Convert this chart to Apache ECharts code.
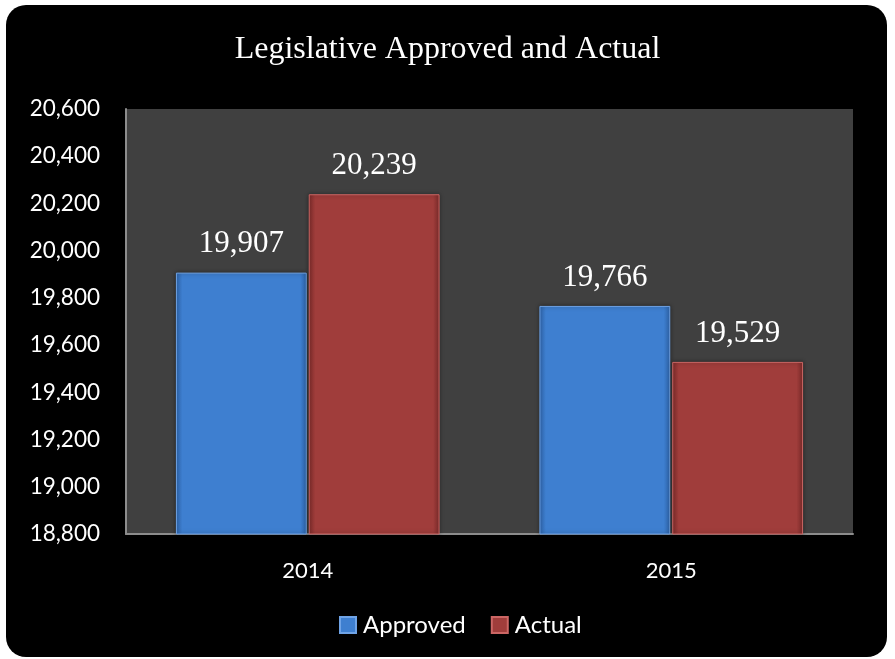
<!DOCTYPE html>
<html>
<head>
<meta charset="utf-8">
<script src="https://cdn.jsdelivr.net/npm/echarts@6/dist/echarts.min.js"></script>
<style>
  html, body { margin: 0; padding: 0; background: #ffffff; }
  #chart { width: 895px; height: 659px; }
</style>
</head>
<body>
<div id="chart"></div>
<script>
// Fiscal years on the category axis
const years = ['2014', '2015'];
// Legislative approved vs. actual amounts
const approved = [19907, 19766];
const actual = [20239, 19529];
// Value axis range
const yMin = 18800;
const yMax = 20600;
const yStep = 200;

const fmt = v => v.toLocaleString('en-US');

// Bevelled look: darker side edges
function barGradient(mid, dark) {
  return new echarts.graphic.LinearGradient(0, 0, 1, 0, [
    { offset: 0, color: dark },
    { offset: 0.05, color: mid },
    { offset: 0.95, color: mid },
    { offset: 1, color: dark }
  ]);
}

const chart = echarts.init(document.getElementById('chart'), null, { renderer: 'canvas' });

const labelStyle = {
  show: true,
  position: 'top',
  distance: 13,
  color: '#ffffff',
  fontFamily: '"Liberation Serif", "Times New Roman", serif',
  fontSize: 31,
  formatter: p => fmt(p.value)
};

const sans = 'Lato, "Open Sans", sans-serif';

chart.setOption({
  backgroundColor: '#ffffff',
  animation: false,
  graphic: [{
    type: 'rect',
    z: -10,
    silent: true,
    shape: { x: 6, y: 5, width: 881, height: 652, r: 20 },
    style: { fill: '#000000' }
  }],
  title: {
    text: 'Legislative Approved and Actual',
    left: 'center',
    top: 29,
    textStyle: {
      color: '#ffffff',
      fontFamily: '"Liberation Serif", "Times New Roman", serif',
      fontWeight: 'normal',
      fontSize: 32
    }
  },
  legend: {
    top: 613,
    left: 339,
    padding: 0,
    itemWidth: 16,
    itemHeight: 16,
    itemGap: 25,
    icon: 'rect',
    textStyle: {
      color: '#ffffff',
      fontFamily: sans,
      fontSize: 24,
      padding: [0, 0, 0, 2]
    },
    data: ['Approved', 'Actual']
  },
  grid: {
    left: 126,
    right: 42,
    top: 109,
    bottom: 125,
    show: true,
    backgroundColor: '#404040',
    borderWidth: 0
  },
  xAxis: {
    type: 'category',
    data: years,
    axisLine: { lineStyle: { color: '#8c8c8c', width: 2 } },
    axisTick: { show: false },
    axisLabel: {
      color: '#ffffff',
      fontFamily: sans,
      fontSize: 22,
      margin: 26
    }
  },
  yAxis: {
    type: 'value',
    min: yMin,
    max: yMax,
    interval: yStep,
    axisLine: { show: true, lineStyle: { color: '#8c8c8c', width: 2 } },
    axisTick: { show: false },
    splitLine: { show: false },
    axisLabel: {
      color: '#ffffff',
      fontFamily: sans,
      fontSize: 22.5,
      margin: 26,
      formatter: v => fmt(v)
    }
  },
  series: [
    {
      name: 'Approved',
      type: 'bar',
      data: approved,
      barWidth: '36%',
      barGap: '1.5%',
      itemStyle: {
        color: barGradient('#3e7fd0', '#2f66ad'),
        borderColor: '#6fa3e6',
        borderWidth: 1,
        shadowColor: 'rgba(0,0,0,0.4)',
        shadowBlur: 4
      },
      label: labelStyle
    },
    {
      name: 'Actual',
      type: 'bar',
      data: actual,
      barWidth: '36%',
      itemStyle: {
        color: barGradient('#a03d3b', '#7e2c2b'),
        borderColor: '#cc6664',
        borderWidth: 1,
        shadowColor: 'rgba(0,0,0,0.4)',
        shadowBlur: 4
      },
      label: labelStyle
    }
  ]
});
</script>
</body>
</html>
